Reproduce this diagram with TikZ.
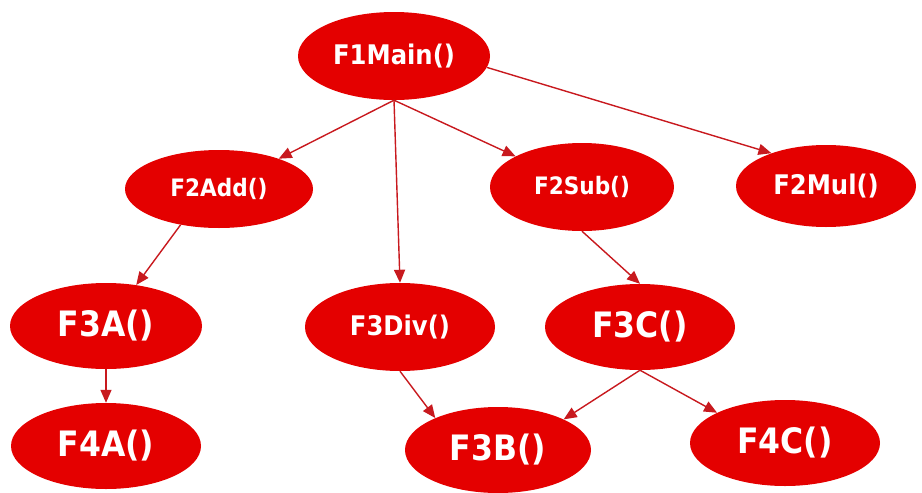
\documentclass[tikz,border=0pt]{standalone}
\usepackage{fontspec}
\newfontfamily\callfont{DejaVu Sans Condensed}[BoldFont={DejaVu Sans Condensed Bold}]
\usetikzlibrary{shapes.geometric,arrows.meta}
\definecolor{callred}{RGB}{228,0,0}
\definecolor{linkred}{RGB}{200,25,30}
\tikzset{
  fn/.style={ellipse, fill=callred, draw=none, inner sep=0pt,
    text=white, font=\callfont\bfseries},
  small/.style={font=\callfont\bfseries\fontsize{24}{24}\selectfont},
  medium/.style={font=\callfont\bfseries\fontsize{27}{27}\selectfont},
  large/.style={font=\callfont\bfseries\fontsize{35}{35}\selectfont},
  call/.style={draw=linkred, line width=1.4pt,
    -{Triangle[length=13pt,width=11pt]}},
}
\begin{document}
\begin{tikzpicture}[x=1pt,y=-1pt]
\useasboundingbox (0,0) rectangle (922,493);

% functions, top level to deepest
\node[fn, medium, minimum width=192pt, minimum height=88pt] (F1) at (394,56) {F1Main()};

\node[fn, small,  minimum width=188pt, minimum height=78pt] (F2Add) at (219,189) {F2Add()};
\node[fn, small,  minimum width=184pt, minimum height=88pt] (F2Sub) at (582,187) {F2Sub()};
\node[fn, medium, minimum width=180pt, minimum height=82pt] (F2Mul) at (826,186) {F2Mul()};

\node[fn, large,  minimum width=192pt, minimum height=86pt] (F3A) at (106,326) {F3A()};
\node[fn, medium, minimum width=190pt, minimum height=88pt] (F3Div) at (400,327) {F3Div()};
\node[fn, large,  minimum width=190pt, minimum height=86pt] (F3C) at (640,327) {F3C()};

\node[fn, large,  minimum width=190pt, minimum height=86pt] (F4A) at (106,446) {F4A()};
\node[fn, large,  minimum width=186pt, minimum height=86pt] (F3B) at (498,450) {F3B()};
\node[fn, large,  minimum width=190pt, minimum height=86pt] (F4C) at (785,443) {F4C()};

% calls
\draw[call] (F1.south) -- (F2Add);
\draw[call] (F1.south) -- (F3Div.north);
\draw[call] (F1.south) -- (F2Sub);
\draw[call] (F1.-7) -- (F2Mul.149);

\draw[call] (F2Add.223) -- (F3A);
\draw[call] (F2Sub.south) -- (F3C.north);
\draw[call] (F3A.south) -- (F4A.north);

\draw[call] (F3Div.south) -- (F3B.153);
\draw[call] (F3C.south) -- (F3B.25);
\draw[call] (F3C.south) -- (F4C.156);
\end{tikzpicture}
\end{document}
